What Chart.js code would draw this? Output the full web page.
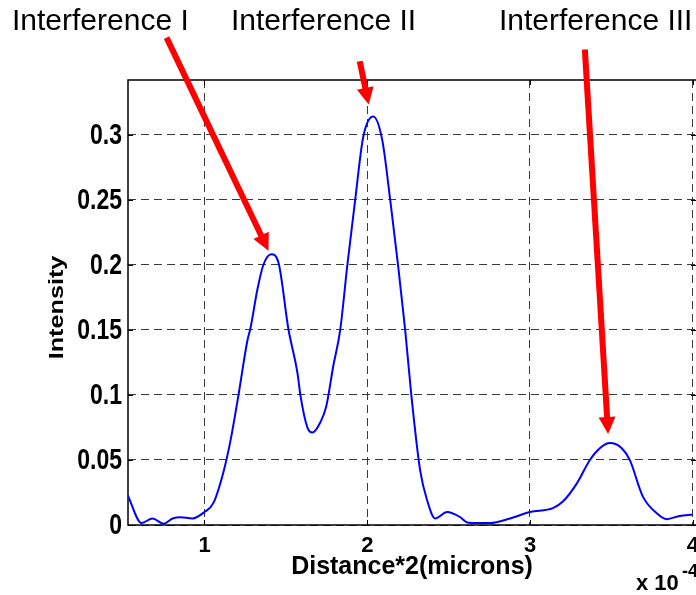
<!DOCTYPE html>
<html>
<head>
<meta charset="utf-8">
<script src="https://cdn.jsdelivr.net/npm/chart.js@4.4.1/dist/chart.umd.min.js"></script>
<style>
  html, body { margin: 0; padding: 0; background: #fff; }
  #wrap { width: 696px; height: 595px; position: relative; }
</style>
</head>
<body>
<div id="wrap"><canvas id="c" width="696" height="595"></canvas></div>
<script>
// ---- Data (distance in units of 1e-4 microns, as on the axis) ----
const distance = [0.528,0.613,0.681,0.748,0.804,0.853,0.926,1.0,1.055,1.117,1.160,1.209,1.264,1.282,1.325,1.362,1.411,1.454,1.515,1.571,1.589,1.632,1.663,1.712,1.748,1.791,1.834,1.877,1.926,1.975,2.037,2.092,2.141,2.190,2.233,2.270,2.325,2.368,2.417,2.491,2.571,2.613,2.675,2.755,2.877,3.0,3.141,3.202,3.288,3.368,3.429,3.491,3.564,3.613,3.693,3.779,3.840,3.920,4.0];
const intensity = [0.023,0.0015,0.005,0.001,0.005,0.006,0.005,0.010,0.017,0.041,0.065,0.100,0.142,0.151,0.181,0.200,0.208,0.202,0.151,0.117,0.100,0.075,0.071,0.079,0.091,0.122,0.150,0.199,0.250,0.298,0.314,0.296,0.250,0.199,0.150,0.101,0.042,0.019,0.005,0.010,0.006,0.002,0.0015,0.0015,0.005,0.010,0.013,0.018,0.032,0.050,0.059,0.063,0.059,0.050,0.022,0.009,0.0045,0.007,0.008];

const xTicks = [1, 2, 3, 4];
const yTicks = [0, 0.05, 0.1, 0.15, 0.2, 0.25, 0.3];
const yTitle = 'Intensity';
const xTitle = 'Distance*2(microns)';

// Annotation texts and arrows (arrow ends in data units)
const annotLabels = ["Interference I", "Interference II", "Interference III"];
const arrowTailX = [0.767, 1.954, 3.337];
const arrowTailY = [0.3746, 0.3564, 0.3654];
const arrowTipX  = [1.393, 2.009, 3.480];
const arrowTipY  = [0.2108, 0.3231, 0.070];

const FONT = "'Liberation Sans', Arial, Helvetica, sans-serif";

const points = distance.map((d, i) => ({ x: d, y: intensity[i] }));
const fmtY = v => String(Number(v.toFixed(2)));

const frameAndText = {
  id: 'frameAndText',
  beforeDatasetsDraw(chart) {
    const { ctx, chartArea: a, scales } = chart;
    ctx.save();
    // inner tick marks (MATLAB style)
    ctx.strokeStyle = '#000';
    ctx.lineWidth = 1;
    ctx.setLineDash([]);
    yTicks.forEach(v => {
      const y = Math.round(scales.y.getPixelForValue(v)) + 0.5;
      ctx.beginPath();
      ctx.moveTo(a.left, y); ctx.lineTo(a.left + 5, y);
      ctx.moveTo(a.right, y); ctx.lineTo(a.right - 5, y);
      ctx.stroke();
    });
    xTicks.forEach(v => {
      const x = Math.round(scales.x.getPixelForValue(v)) + 0.5;
      ctx.beginPath();
      ctx.moveTo(x, a.bottom); ctx.lineTo(x, a.bottom - 5);
      ctx.moveTo(x, a.top); ctx.lineTo(x, a.top + 5);
      ctx.stroke();
    });
    // frame
    ctx.lineWidth = 1.5;
    ctx.strokeRect(a.left, a.top, a.right - a.left + 2, a.bottom - a.top);
    ctx.restore();
  },
  afterDraw(chart) {
    const { ctx, scales, chartArea: a } = chart;
    ctx.save();
    ctx.fillStyle = '#000';

    // y tick labels (vertically stretched like the reference)
    ctx.font = "bold 23px " + FONT;
    ctx.textAlign = 'right';
    ctx.textBaseline = 'middle';
    yTicks.forEach(v => {
      const y = scales.y.getPixelForValue(v);
      ctx.save();
      ctx.translate(a.left - 6, y + 1);
      ctx.scale(1, 1.25);
      ctx.fillText(fmtY(v), 0, 0);
      ctx.restore();
    });

    // y title (rotated, stretched along its length)
    ctx.save();
    ctx.font = "bold 20px " + FONT;
    ctx.textAlign = 'center';
    ctx.textBaseline = 'middle';
    ctx.translate(57, (a.top + a.bottom) / 2 + 5);
    ctx.rotate(-Math.PI / 2);
    ctx.scale(1.26, 1);
    ctx.fillText(yTitle, 0, 0);
    ctx.restore();

    // exponent label
    ctx.textBaseline = 'alphabetic';
    ctx.textAlign = 'left';
    ctx.font = "bold 22px " + FONT;
    ctx.fillText("x 10", 636, 590);
    ctx.font = "bold 18px " + FONT;
    ctx.fillText("-4", 682, 577);

    // annotation labels
    ctx.font = "30px " + FONT;
    const labelX = [12, 231, 499];
    annotLabels.forEach((t, i) => ctx.fillText(t, labelX[i], 30));

    // arrows
    ctx.fillStyle = '#ff0000';
    ctx.strokeStyle = '#ff0000';
    ctx.lineWidth = 6;
    ctx.lineCap = 'butt';
    for (let i = 0; i < arrowTipX.length; i++) {
      const x0 = scales.x.getPixelForValue(arrowTailX[i]);
      const y0 = scales.y.getPixelForValue(arrowTailY[i]);
      const x1 = scales.x.getPixelForValue(arrowTipX[i]);
      const y1 = scales.y.getPixelForValue(arrowTipY[i]);
      const dx = x1 - x0, dy = y1 - y0;
      const len = Math.hypot(dx, dy);
      const ux = dx / len, uy = dy / len;
      const head = 17, half = 8.5;
      const bx = x1 - ux * head, by = y1 - uy * head;
      ctx.beginPath();
      ctx.moveTo(x0, y0);
      ctx.lineTo(bx + ux, by + uy);
      ctx.stroke();
      ctx.beginPath();
      ctx.moveTo(x1, y1);
      ctx.lineTo(bx - uy * half, by + ux * half);
      ctx.lineTo(bx + uy * half, by - ux * half);
      ctx.closePath();
      ctx.fill();
    }
    ctx.restore();
  }
};

new Chart(document.getElementById('c'), {
  type: 'line',
  data: {
    datasets: [{
      data: points,
      borderColor: '#0000ff',
      borderWidth: 2,
      pointRadius: 0,
      fill: false,
      cubicInterpolationMode: 'monotone'
    }]
  },
  options: {
    responsive: false,
    animation: false,
    devicePixelRatio: 1,
    layout: { padding: { top: 80, right: 0, left: 0, bottom: 0 } },
    plugins: { legend: { display: false }, tooltip: { enabled: false } },
    scales: {
      x: {
        type: 'linear',
        min: 0.53, max: 4.02,
        afterFit(s) { s.height = 70; s.paddingLeft = 0; s.paddingRight = 0; },
        afterBuildTicks(s) { s.ticks = xTicks.map(v => ({ value: v })); },
        ticks: {
          color: '#000',
          padding: 8,
          font: { family: FONT, size: 22, weight: 'bold' },
          callback: v => String(v)
        },
        grid: { color: '#3a3a3a', lineWidth: 1, drawTicks: false },
        border: { display: false, dash: [8, 5] },
        title: {
          display: true, text: xTitle, color: '#000',
          font: { family: FONT, size: 25, weight: 'bold' },
          padding: { top: 0, bottom: 13 }
        }
      },
      y: {
        min: 0, max: 0.342,
        afterFit(s) { s.width = 128; s.paddingTop = 0; s.paddingBottom = 0; },
        afterBuildTicks(s) { s.ticks = yTicks.map(v => ({ value: v })); },
        ticks: { display: false },
        grid: { color: '#3a3a3a', lineWidth: 1, drawTicks: false },
        border: { display: false, dash: [8, 5] },
        title: { display: false }
      }
    }
  },
  plugins: [frameAndText]
});
</script>
</body>
</html>
